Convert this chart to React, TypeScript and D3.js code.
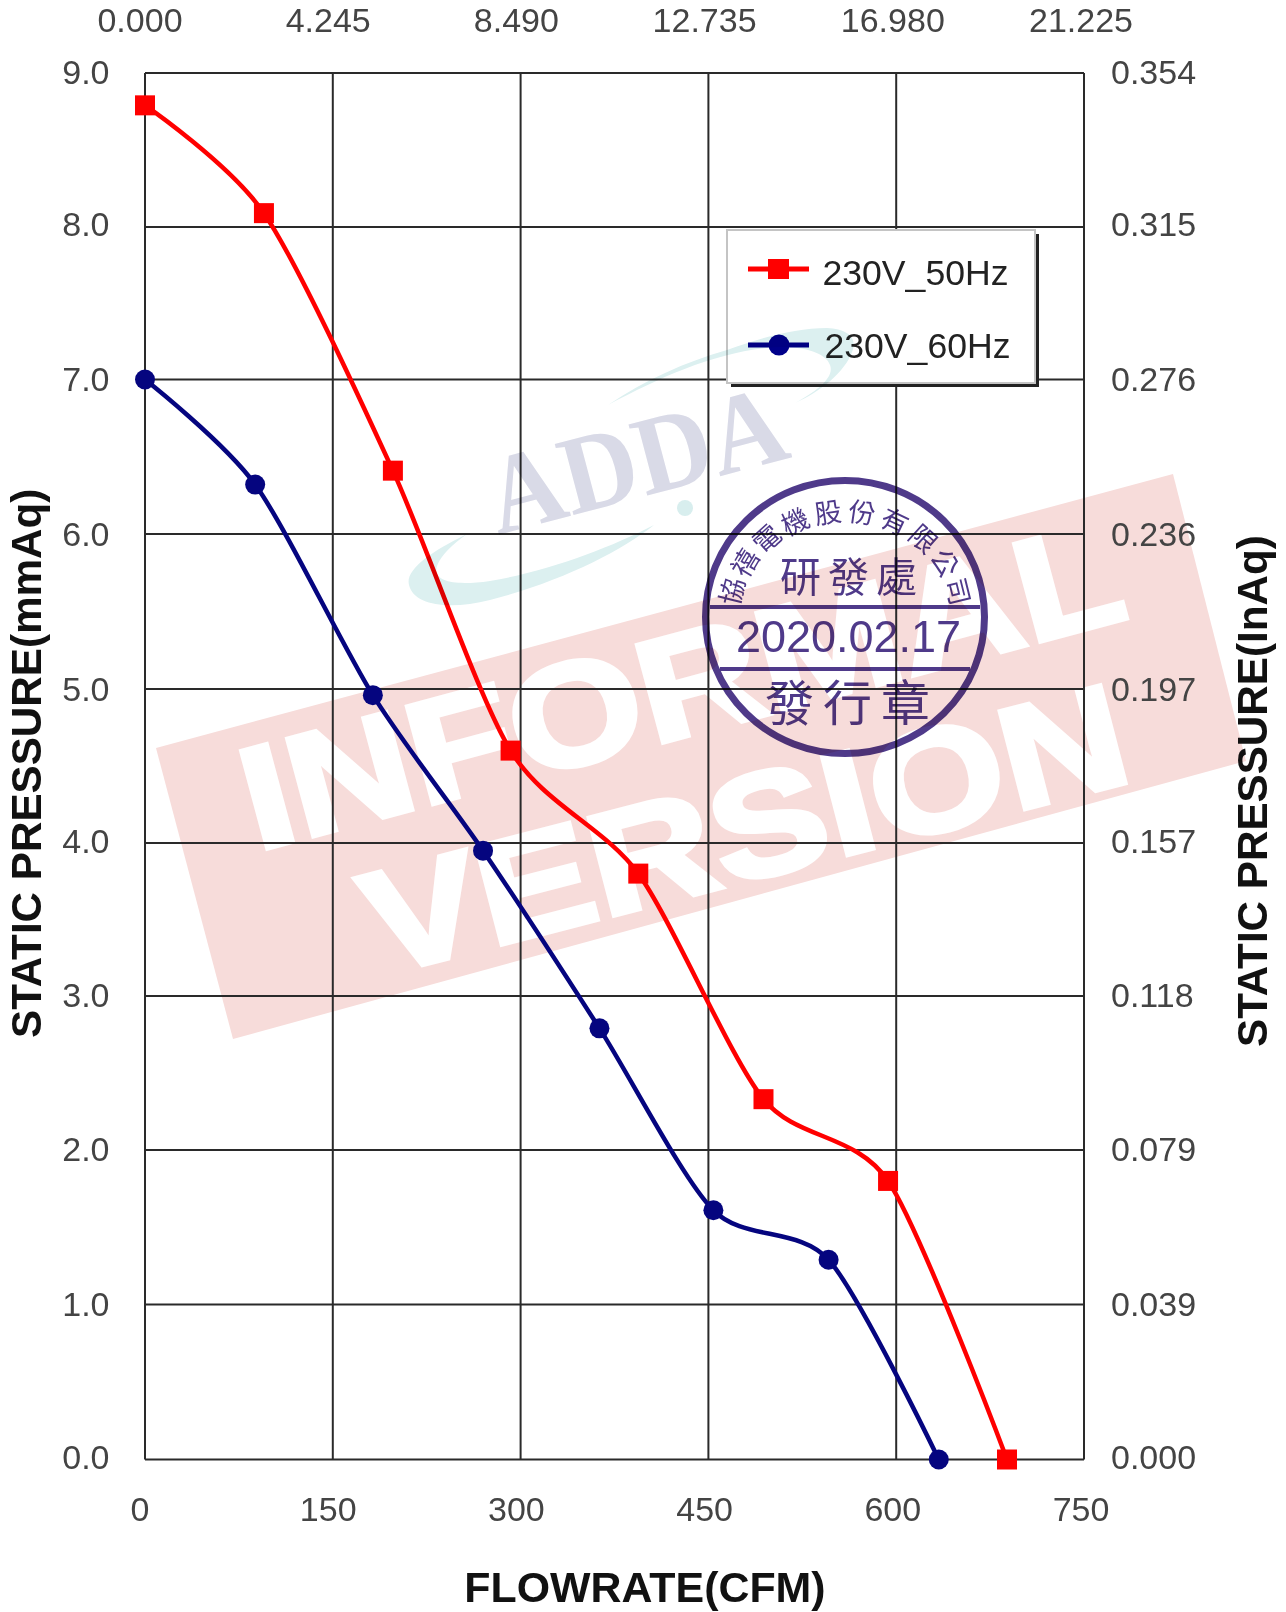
import React from "react";
import * as d3 from "d3";

const flowTicks = [0, 150, 300, 450, 600, 750];
const flowTopLabels = ["0.000", "4.245", "8.490", "12.735", "16.980", "21.225"];
const mmAqTicks = [0, 1, 2, 3, 4, 5, 6, 7, 8, 9];
const inAqLabels = ["0.000", "0.039", "0.079", "0.118", "0.157", "0.197", "0.236", "0.276", "0.315", "0.354"];
const flow50 = [0, 95, 198, 292, 394, 494, 593.5, 688.5];
const press50 = [8.79, 8.09, 6.41, 4.6, 3.8, 2.33, 1.8, 0];
const flow60 = [0, 88, 182, 270, 363, 454, 546, 634];
const press60 = [7, 6.32, 4.96, 3.95, 2.79, 1.61, 1.29, 0];
const seriesNames = ["230V_50Hz", "230V_60Hz"];
const companyChars = ["協", "禧", "電", "機", "股", "份", "有", "限", "公", "司"];

const W = 1286, H = 1612;
const FONT = "'Liberation Sans', Arial, sans-serif";
const CJK = "'Noto Sans CJK TC', sans-serif";
const x = d3.scaleLinear().domain([0, 750]).range([145, 1084]);
const labelX = d3.scaleLinear().domain([0, 750]).range([140, 1081]);
const y = d3.scaleLinear().domain(mmAqTicks).range([1459.5, 1304.6, 1150, 996, 843, 689, 534, 379.5, 227, 73]);
const labelY = d3.scaleLinear().domain(mmAqTicks).range([1468.5, 1316, 1161, 1007, 853, 700.5, 545.5, 391, 236, 84]);
const line = d3.line<[number, number]>().x(d => x(d[0])).y(d => y(d[1])).curve(d3.curveCardinal.tension(0.2));
const pts = (a: number[], b: number[]) => a.map((v, i) => [v, b[i]] as [number, number]);
const RED = "#ff0000", BLUE = "#05057f", TXT = "#444444", GRID = "#2a2a2a", STAMP = "#4f3a8a";
const stampCx = 845, stampCy = 617;
const arcAngle = d3.scaleLinear().domain([0, companyChars.length - 1]).range([-76, 76]);

export default function App() {
  return (
    <svg width={W} height={H} viewBox={`0 0 ${W} ${H}`} style={{ position: "absolute", left: 0, top: 0, background: "#fff" }}>
      {/* watermark */}
      <polygon points="156,748 1173,474 1246,761 233,1039" fill="#f7dcda" />
      <g fill="#fff" stroke="#fff" strokeWidth={5} fontFamily={FONT} fontWeight={700} fontSize={146}>
        <text transform="translate(257,851) rotate(-15)" textLength={905} lengthAdjust="spacingAndGlyphs">INFORMAL</text>
        <text transform="translate(379,976) rotate(-14.5)" textLength={782} lengthAdjust="spacingAndGlyphs">VERSION</text>
      </g>
      {/* grid */}
      <g stroke={GRID} strokeWidth={2} fill="none">
        {flowTicks.map(t => <line key={t} x1={x(t)} x2={x(t)} y1={y(9)} y2={y(0)} />)}
        {mmAqTicks.map(t => <line key={t} x1={x(0)} x2={x(750)} y1={y(t)} y2={y(t)} />)}
      </g>
      {/* labels */}
      <g fontFamily={FONT} fontSize={34} fill={TXT}>
        {flowTopLabels.map((l, i) => <text key={l} x={labelX(flowTicks[i])} y={32} textAnchor="middle">{l}</text>)}
        {flowTicks.map(t => <text key={t} x={labelX(t)} y={1520.5} textAnchor="middle">{t}</text>)}
        {mmAqTicks.map(t => <text key={t} x={109.5} y={labelY(t)} textAnchor="end">{t.toFixed(1)}</text>)}
        {inAqLabels.map((l, i) => <text key={l} x={1111} y={labelY(mmAqTicks[i])}>{l}</text>)}
      </g>
      <g fontFamily={FONT} fontWeight={700} fill="#111">
        <text x={645} y={1602} textAnchor="middle" fontSize={42.9}>FLOWRATE(CFM)</text>
        <text transform="translate(41,1038) rotate(-90)" fontSize={42.2}>STATIC PRESSURE(mmAq)</text>
        <text transform="translate(1267,1047) rotate(-90)" fontSize={42.2}>STATIC PRESSURE(InAq)</text>
      </g>
      {/* series */}
      <path d={line(pts(flow50, press50)) ?? ""} fill="none" stroke={RED} strokeWidth={4.5} />
      <path d={line(pts(flow60, press60)) ?? ""} fill="none" stroke={BLUE} strokeWidth={4.5} />
      {flow50.map((f, i) => <rect key={i} x={x(f) - 10} y={y(press50[i]) - 10} width={20} height={20} fill={RED} />)}
      {flow60.map((f, i) => <circle key={i} cx={x(f)} cy={y(press60[i])} r={10} fill={BLUE} />)}
      {/* legend */}
      <rect x={731} y={234} width={308} height={153} fill="#222" />
      <rect x={727} y={230} width={308} height={153} fill="#fff" stroke="#c4c4c4" strokeWidth={2} />
      <line x1={748} x2={809} y1={269} y2={269} stroke={RED} strokeWidth={5} />
      <rect x={768} y={259} width={21} height={20} fill={RED} />
      <line x1={748} x2={809} y1={345} y2={345} stroke="#00008a" strokeWidth={5} />
      <circle cx={779} cy={345} r={10.5} fill="#00008a" />
      <g fontFamily={FONT} fontSize={35.6} fill="#222">
        <text x={822.5} y={285}>{seriesNames[0]}</text>
        <text x={824.5} y={358}>{seriesNames[1]}</text>
      </g>
      {/* logo, printed over the chart */}
      <g style={{ mixBlendMode: "multiply" }}>
        <path d="M467,534 C430,552 405,570 409,585 C414,606 450,610 490,600 C560,582 620,552 654,525 C610,548 545,572 490,581 C455,586 432,582 437,566 C441,555 452,545 467,534 Z" fill="#dcf0f0" />
        <path d="M608,405 C645,380 685,362 727,350 C760,338 795,328 827,328 C848,329 858,338 852,352 C845,372 820,392 795,403 C815,392 835,378 830,365 C826,352 800,346 780,347 C720,350 665,375 608,405 Z" fill="#dcf0f0" />
        <circle cx={685} cy={508} r={8} fill="#d8eeee" />
        <text transform="translate(498,535) rotate(-14.8)" textLength={305} lengthAdjust="spacingAndGlyphs" fontFamily="'Liberation Serif', serif" fontWeight={700} fontSize={112} fill="#d9dae7">ADDA</text>
      </g>
      {/* stamp */}
      <g style={{ mixBlendMode: "multiply" }} fill={STAMP}>
        <ellipse cx={stampCx} cy={stampCy} rx={139.5} ry={136.5} fill="none" stroke={STAMP} strokeWidth={7} />
        <line x1={710} x2={980} y1={607} y2={607} stroke={STAMP} strokeWidth={4} />
        <line x1={720} x2={970} y1={669} y2={669} stroke={STAMP} strokeWidth={4} />
        {companyChars.map((c, i) => {
          const a = arcAngle(i) * Math.PI / 180;
          const px = stampCx + 118 * Math.sin(a), py = stampCy - 107 * Math.cos(a);
          return <text key={c} transform={`translate(${px},${py}) rotate(${arcAngle(i)})`} textAnchor="middle" dominantBaseline="central" fontFamily={CJK} fontSize={27}>{c}</text>;
        })}
        <text x={852} y={592} textAnchor="middle" fontFamily={CJK} fontSize={41} letterSpacing={7}>研發處</text>
        <text x={848.5} y={652} textAnchor="middle" fontFamily={FONT} fontSize={45}>2020.02.17</text>
        <text x={852} y={721} textAnchor="middle" fontFamily={CJK} fontSize={49} letterSpacing={9}>發行章</text>
      </g>
    </svg>
  );
}
